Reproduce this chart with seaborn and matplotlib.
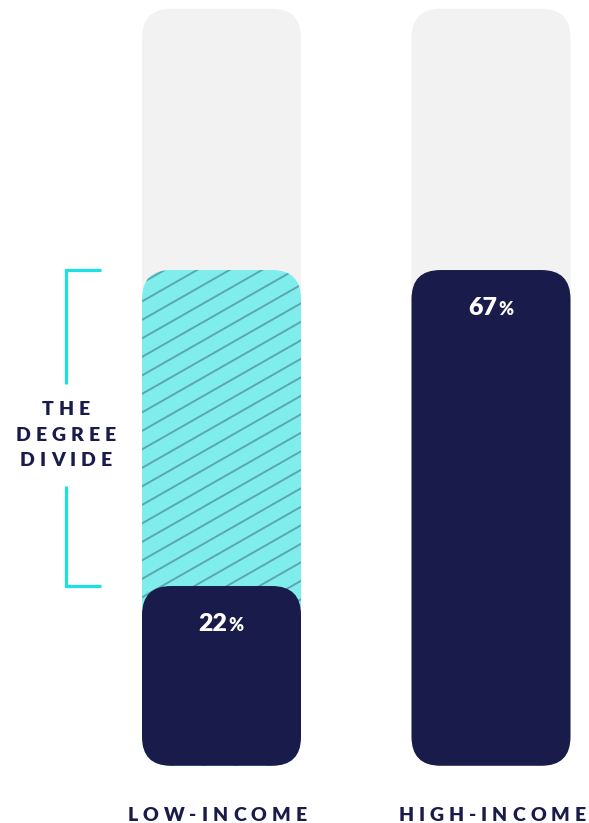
import matplotlib
matplotlib.use("Agg")
import matplotlib.pyplot as plt
import seaborn as sns
import pandas as pd
from matplotlib.patches import FancyBboxPatch

# ---- data ----
categories = ["LOW-INCOME", "HIGH-INCOME"]
values = [22, 67]
value_labels = ["22", "67"]
divide_lines = ["THE", "DEGREE", "DIVIDE"]

# ---- style ----
NAVY = "#191C4A"
TRACK = "#F2F2F2"
CYAN = "#80EDED"
HATCH = "#5BA8AC"
BRACKET = "#1BE2E2"

W, H, DPI = 589, 823, 100
X0_PX, PX_PER_X = 221.5, 269.5
Y0_PX, PX_PER_Y = 740.5, 7.022   # pixel row (from top) of value 0, px per unit
TRACK_LO, TRACK_HI = -3.6, 104.2
RADIUS_PX = 29
BAR_W = 159 / PX_PER_X


def xd(px):
    return (px - X0_PX) / PX_PER_X


def yd(py):
    return (Y0_PX - py) / PX_PER_Y


sns.set_theme(style="white")
plt.rcParams["font.family"] = ["Lato", "DejaVu Sans"]

fig = plt.figure(figsize=(W / DPI, H / DPI), dpi=DPI)
fig.patch.set_facecolor("white")
ax = fig.add_axes([0, 0, 1, 1])

df = pd.DataFrame({"group": categories, "value": values})
sns.barplot(data=df, x="group", y="value", color=NAVY, width=BAR_W,
            saturation=1, ax=ax, errorbar=None)
ax.set_xlim(xd(0), xd(W))
ax.set_ylim(yd(H), yd(0))
ax.axis("off")

aspect = PX_PER_X / PX_PER_Y
r = RADIUS_PX / PX_PER_X


def rounded(x, y0, w, h, color, z):
    p = FancyBboxPatch((x, y0), w, h,
                       boxstyle=f"round,pad=0,rounding_size={r}",
                       mutation_aspect=aspect, fc=color, ec="none", zorder=z)
    ax.add_patch(p)
    return p


geo = []
for b in list(ax.patches):
    geo.append((b.get_x(), b.get_width(), b.get_height()))
    b.remove()

# tracks
for (x, w, h) in geo:
    rounded(x, TRACK_LO, w, TRACK_HI - TRACK_LO, TRACK, 1)

# the degree divide (hatched region on low-income bar up to high-income value)
x0, w0, _ = geo[0]
cyan = rounded(x0, TRACK_LO, w0, values[1] - TRACK_LO, CYAN, 2)
left_px = X0_PX + x0 * PX_PER_X
right_px = left_px + w0 * PX_PER_X
u_lo = H - (Y0_PX - TRACK_LO * PX_PER_Y)
u_hi = H - (Y0_PX - values[1] * PX_PER_Y)
slope, step = 0.57, 18.5
bb = u_lo - slope * right_px
while bb < u_hi - slope * left_px + step:
    xs = [left_px - 3, right_px + 3]
    us = [slope * xx + bb for xx in xs]
    ln, = ax.plot([xd(xx) for xx in xs], [yd(H - u) for u in us],
                  color=HATCH, lw=1.4, zorder=3, solid_capstyle="butt")
    ln.set_clip_path(cyan)
    bb += step

# navy value bars
for (x, w, h) in geo:
    rounded(x, TRACK_LO, w, h - TRACK_LO, NAVY, 4)

# value labels
for i, (x, w, h) in enumerate(geo):
    cx = x + w / 2
    base = h - 45 / PX_PER_Y
    ax.text(cx + 6 / PX_PER_X, base, value_labels[i], ha="right", va="baseline",
            color="white", fontsize=18, fontweight="heavy", zorder=6)
    ax.text(cx + 7 / PX_PER_X, base, "%", ha="left", va="baseline",
            color="white", fontsize=13, fontweight="heavy", zorder=6)

fig.canvas.draw()
renderer = fig.canvas.get_renderer()


def spaced(text, cx_px, base_py, gap_px, **kw):
    widths = []
    for ch in text:
        t = ax.text(0, 0, ch, **kw)
        widths.append(t.get_window_extent(renderer).width)
        t.remove()
    total = sum(widths) + gap_px * (len(text) - 1)
    pos = cx_px - total / 2
    for ch, wd in zip(text, widths):
        ax.text(xd(pos), yd(base_py), ch, ha="left", va="baseline", **kw)
        pos += wd + gap_px


label_kw = dict(fontsize=14, fontweight="heavy", color=NAVY, zorder=6)
label_cx = [217, 492]
for i in range(len(categories)):
    spaced(categories[i], label_cx[i], 821, 5.0, **label_kw)

for line, bpy in zip(divide_lines, [415, 441, 466]):
    spaced(line, 66, bpy, 5.0, **label_kw)

# bracket
bx, arm = xd(66), xd(101)
ax.plot([arm, bx, bx], [values[1], values[1], yd(384)], color=BRACKET, lw=2.3,
        solid_joinstyle="miter", solid_capstyle="butt", zorder=5)
ax.plot([bx, bx, arm], [yd(486), values[0], values[0]], color=BRACKET, lw=2.3,
        solid_joinstyle="miter", solid_capstyle="butt", zorder=5)

fig.savefig("out.png", dpi=DPI, facecolor="white")
